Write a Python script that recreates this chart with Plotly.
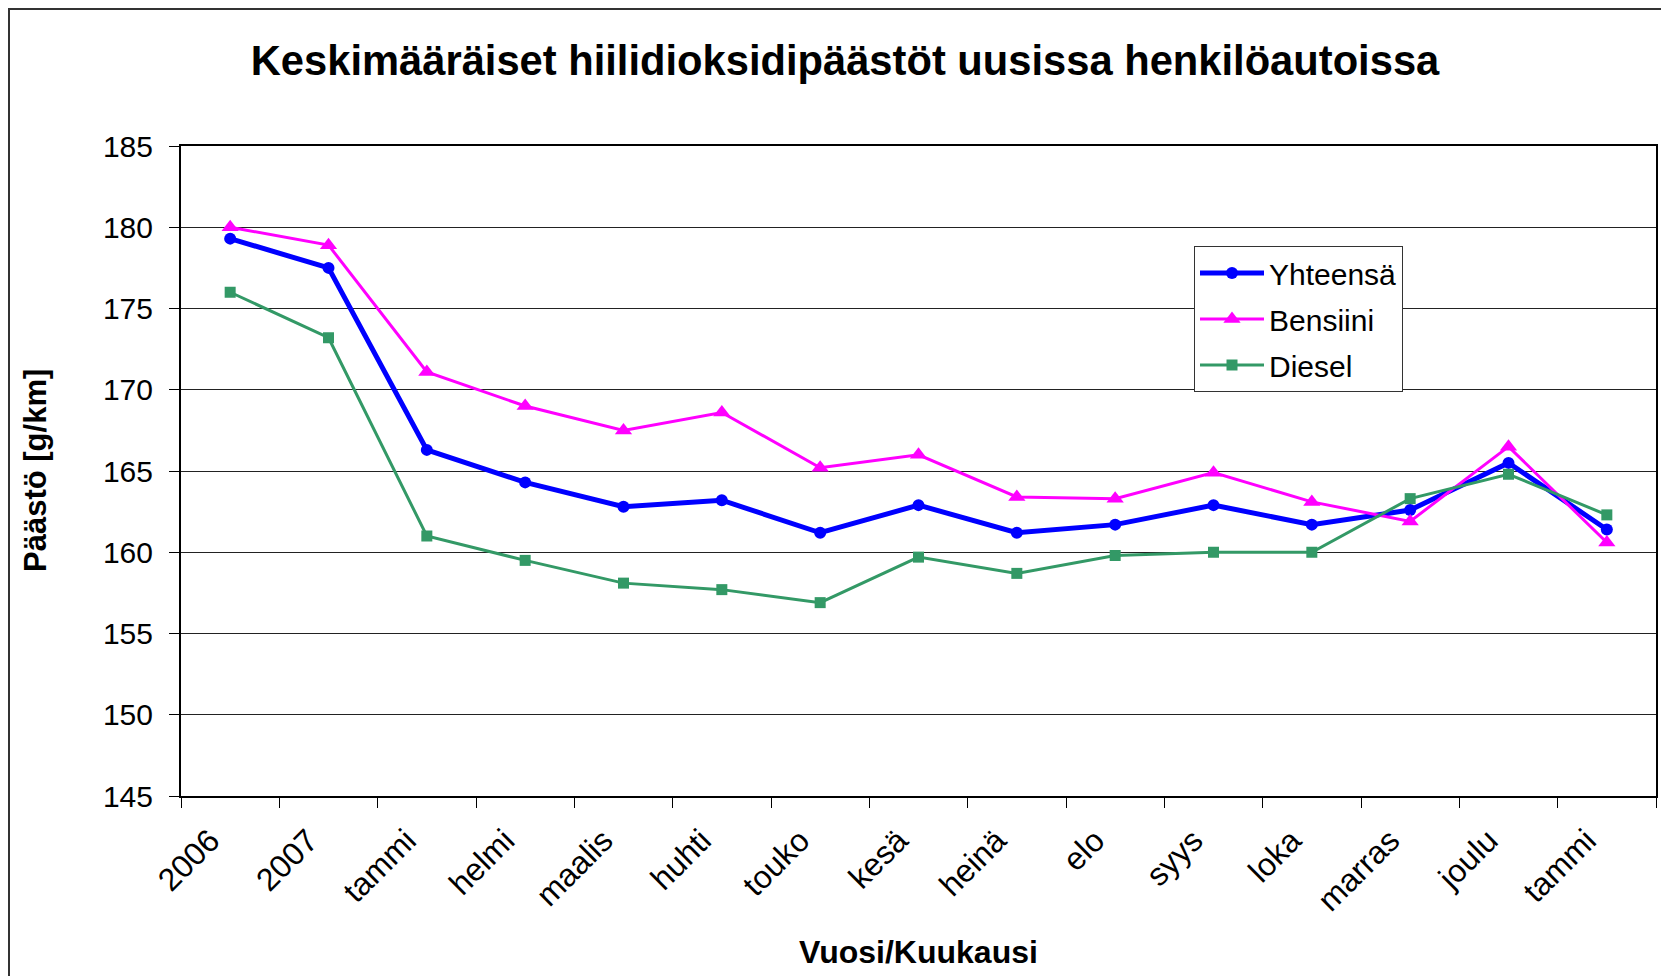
import plotly.graph_objects as go

labels = ["2006", "2007", "tammi", "helmi", "maalis", "huhti", "touko", "kesä",
          "heinä", "elo", "syys", "loka", "marras", "joulu", "tammi"]
yhteensa = [179.3, 177.5, 166.3, 164.3, 162.8, 163.2, 161.2, 162.9,
            161.2, 161.7, 162.9, 161.7, 162.6, 165.5, 161.4]
bensiini = [180.0, 178.9, 171.1, 169.0, 167.5, 168.6, 165.2, 166.0,
            163.4, 163.3, 164.9, 163.1, 161.9, 166.5, 160.6]
diesel = [176.0, 173.2, 161.0, 159.5, 158.1, 157.7, 156.9, 159.7,
          158.7, 159.8, 160.0, 160.0, 163.3, 164.8, 162.3]
y_ticks = [145, 150, 155, 160, 165, 170, 175, 180, 185]

x = list(range(len(labels)))
FONT = "Liberation Sans, Arial, sans-serif"

fig = go.Figure()
fig.add_trace(go.Scatter(x=x, y=yhteensa, name="Yhteensä", mode="lines+markers", legendgroup="a",
                         line=dict(color="#0000FF", width=5),
                         marker=dict(symbol="circle", size=12, color="#0000FF")))
fig.add_trace(go.Scatter(x=x, y=bensiini, name="Bensiini", mode="lines+markers", legendgroup="b",
                         line=dict(color="#FF00FF", width=3),
                         marker=dict(symbol="triangle-up", size=15, color="#FF00FF")))
fig.add_trace(go.Scatter(x=x, y=diesel, name="Diesel", mode="lines+markers", legendgroup="c",
                         line=dict(color="#339966", width=3),
                         marker=dict(symbol="square", size=11, color="#339966")))

# page body has an 8px offset; figure coordinates below are screen coords minus 8
OFF = 8
W, H = 1669, 976
L, T = 181 - OFF, 146 - OFF
R = W - (1656 - OFF)
B = H - (796 - OFF)
pw, ph = W - L - R, H - T - B
fx = lambda px: (px - OFF - L) / pw          # px in screen coords
fy = lambda py: (H - B - (py - OFF)) / ph    # py in screen coords

fig.update_layout(
    width=W, height=H,
    margin=dict(l=L, r=R, t=T, b=B, autoexpand=False),
    paper_bgcolor="white", plot_bgcolor="white",
    font=dict(family=FONT, color="black", size=30),
    title=dict(text="<b>Keskimääräiset hiilidioksidipäästöt uusissa henkilöautoissa</b>",
               x=fx(845), xref="paper", xanchor="center", y=1 - 52 / H, yanchor="middle",
               font=dict(family=FONT, size=41.7, color="black")),
    showlegend=True,
    legend=dict(x=fx(1194), y=fy(246), xanchor="left", yanchor="top",
                bgcolor="white", bordercolor="#333333", borderwidth=1,
                font=dict(family=FONT, size=30, color="black"),
                itemwidth=64, tracegroupgap=4),
    xaxis=dict(range=[-0.5, len(labels) - 0.5], tickmode="array", tickvals=x, ticktext=labels,
               tickangle=-45, ticks="", showgrid=False, zeroline=False, automargin=False,
               showline=True, linecolor="black", linewidth=2, mirror=True,
               ticklabelstandoff=11, ticklabelshift=-20,
               tickfont=dict(family=FONT, size=32, color="black"),
               minor=dict(tick0=-0.5, dtick=1, ticks="outside", ticklen=10,
                          tickcolor="black", tickwidth=1, showgrid=False)),
    yaxis=dict(range=[145, 185], tickmode="array", tickvals=y_ticks, automargin=False,
               ticks="outside", ticklen=10, tickcolor="black", ticklabelstandoff=10,
               showgrid=True, gridcolor="#222222", gridwidth=1, zeroline=False,
               showline=True, linecolor="black", linewidth=2, mirror=True,
               tickfont=dict(family=FONT, size=30, color="black")),
)

fig.add_annotation(text="<b>Vuosi/Kuukausi</b>", xref="paper", yref="paper",
                   x=0.5, y=fy(952), xanchor="center", yanchor="middle", showarrow=False,
                   font=dict(family=FONT, size=32, color="black"))
fig.add_annotation(text="<b>Päästö [g/km]</b>", xref="paper", yref="paper",
                   x=fx(35), y=0.5, xanchor="center", yanchor="middle", showarrow=False,
                   textangle=-90, font=dict(family=FONT, size=31, color="black"))

# outer chart-area frame
fig.add_shape(type="rect", xref="paper", yref="paper",
              x0=fx(9), x1=fx(1700), y0=fy(1000), y1=fy(9),
              line=dict(color="#333333", width=2), fillcolor="rgba(0,0,0,0)", layer="below")

fig.write_html("out.html")
